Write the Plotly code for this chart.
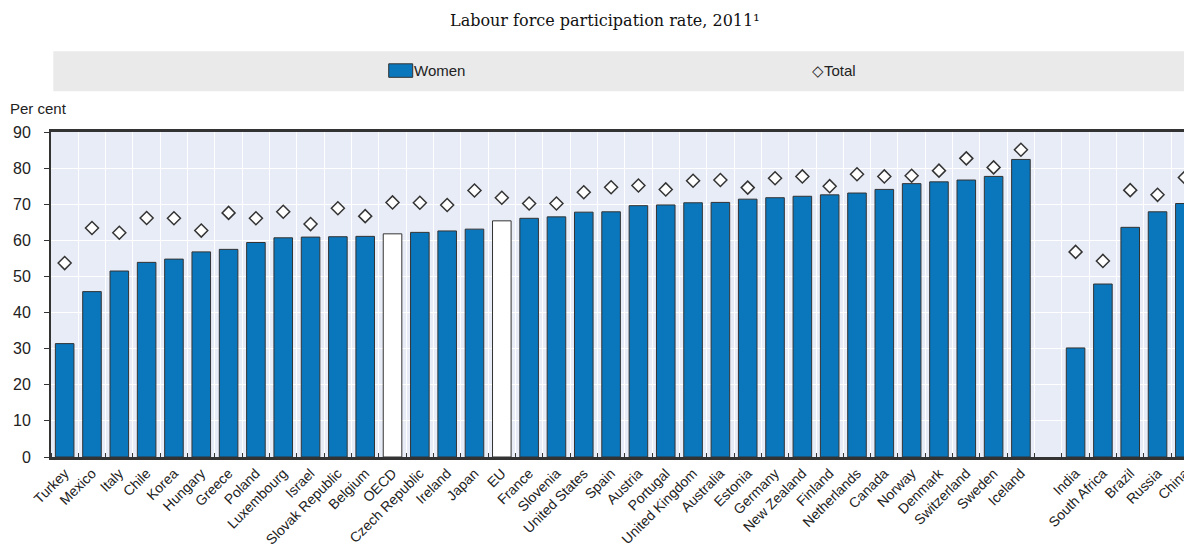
import plotly.graph_objects as go

countries = ["Turkey", "Mexico", "Italy", "Chile", "Korea", "Hungary", "Greece", "Poland",
             "Luxembourg", "Israel", "Slovak Republic", "Belgium", "OECD", "Czech Republic",
             "Ireland", "Japan", "EU", "France", "Slovenia", "United States", "Spain", "Austria",
             "Portugal", "United Kingdom", "Australia", "Estonia", "Germany", "New Zealand",
             "Finland", "Netherlands", "Canada", "Norway", "Denmark", "Switzerland", "Sweden",
             "Iceland"]
women = [31.4, 45.8, 51.5, 53.9, 54.8, 56.8, 57.5, 59.4, 60.7, 60.9, 61.0, 61.1, 61.8, 62.2,
         62.6, 63.1, 65.4, 66.1, 66.5, 67.8, 67.9, 69.6, 69.8, 70.4, 70.5, 71.4, 71.8, 72.2,
         72.6, 73.1, 74.1, 75.7, 76.2, 76.7, 77.7, 82.4]
total = [53.7, 63.4, 62.1, 66.2, 66.1, 62.7, 67.6, 66.1, 67.9, 64.5, 68.9, 66.7, 70.5, 70.4,
         69.8, 73.8, 71.8, 70.2, 70.2, 73.3, 74.7, 75.2, 74.1, 76.5, 76.7, 74.6, 77.2, 77.7,
         75.0, 78.3, 77.7, 77.9, 79.3, 82.7, 80.2, 85.1]
partners = ["India", "South Africa", "Brazil", "Russia", "China"]
partner_women = [30.2, 47.9, 63.6, 67.9, 70.2]
partner_total = [56.8, 54.3, 73.9, 72.6, 77.4]
highlight = ["OECD", "EU"]

BLUE = "#0A77BD"
EDGE = "#333333"
FONT = "Liberation Sans, Arial, sans-serif"

names = countries + partners
pos = list(range(len(countries))) + [len(countries) + 1 + i for i in range(len(partners))]
w_vals = women + partner_women
t_vals = total + partner_total
colors = ["white" if n in highlight else BLUE for n in names]

fig = go.Figure()
fig.add_trace(go.Bar(x=pos, y=w_vals, marker=dict(color=colors, line=dict(color=EDGE, width=1)),
                     width=0.68, name="Women", showlegend=False))
fig.add_trace(go.Scatter(x=pos, y=t_vals, mode="markers", name="Total", showlegend=False,
                         marker=dict(symbol="diamond", size=10, color="white",
                                     line=dict(color=EDGE, width=1.5))))

nslots = len(countries) + 1 + len(partners)
boundaries = [i - 0.5 for i in range(nslots + 1)]

OFF = 8  # default body margin of the html page
W, H = 1192 - OFF, 549 - OFF
L, R = 50.7 - OFF, 0
T = 131.7 - OFF
B = H - (456.7 - OFF)
pw = W - L - R
ph = H - T - B
slot_px = (1184.7 - 64.2) / 41

def px(x):  # window pixel -> paper
    return (x - OFF - L) / pw

def py(y):
    return (H - B - (y - OFF)) / ph

fig.update_layout(
    width=W, height=H,
    margin=dict(l=L, r=R, t=T, b=B, pad=0, autoexpand=False),
    paper_bgcolor="white",
    plot_bgcolor="#E8ECF6",
    font=dict(family=FONT, size=15, color="#222"),
    xaxis=dict(
        range=[-0.5, -0.5 + pw / slot_px], automargin=False,
        tickmode="array", tickvals=pos, ticktext=names, tickangle=-45,
        ticklabeloverflow="allow",
        ticks="", showgrid=False, zeroline=False,
        showline=True, linecolor=EDGE, linewidth=2.5, mirror=True,
        tickfont=dict(family=FONT, size=14, color="#222"),
        minor=dict(tickmode="array", tickvals=boundaries, ticks="inside", ticklen=4,
                   tickcolor=EDGE, tickwidth=1, showgrid=True, gridcolor="white", gridwidth=1),
    ),
    yaxis=dict(
        range=[0, 90], automargin=False, tickmode="array", tickvals=list(range(0, 91, 10)),
        ticks="outside", ticklen=5, tickcolor=EDGE, ticklabelstandoff=10,
        showgrid=True, gridcolor="white", gridwidth=1, zeroline=False,
        showline=True, linecolor=EDGE, linewidth=2, mirror=True,
        tickfont=dict(family=FONT, size=16, color="#222"),
    ),
)

# legend band
fig.add_shape(type="rect", xref="paper", yref="paper", x0=px(53), x1=px(1191), y0=py(91), y1=py(51),
              fillcolor="#EAEAEB", line=dict(width=0), layer="below")
fig.add_shape(type="rect", xref="paper", yref="paper", x0=px(388.5), x1=px(412.5), y0=py(77), y1=py(63.5),
              fillcolor=BLUE, line=dict(color=EDGE, width=1))
fig.add_annotation(xref="paper", yref="paper", x=px(412), y=py(70.5), xanchor="left", yanchor="middle",
                   text="Women", showarrow=False, font=dict(family=FONT, size=15, color="#222"))
fig.add_annotation(xref="paper", yref="paper", x=px(810), y=py(70.5), xanchor="left", yanchor="middle",
                   text="◇Total", showarrow=False, font=dict(family=FONT, size=15, color="#222"))

fig.add_annotation(xref="paper", yref="paper", x=px(8), y=py(108), xanchor="left", yanchor="middle",
                   text="Per cent", showarrow=False, font=dict(family=FONT, size=15, color="#222"))
fig.add_annotation(xref="paper", yref="paper", x=px(605), y=py(20), xanchor="center", yanchor="middle",
                   text="Labour force participation rate, 2011¹", showarrow=False,
                   font=dict(family="DejaVu Serif", size=16, color="#111"))

fig.write_html("out.html")
